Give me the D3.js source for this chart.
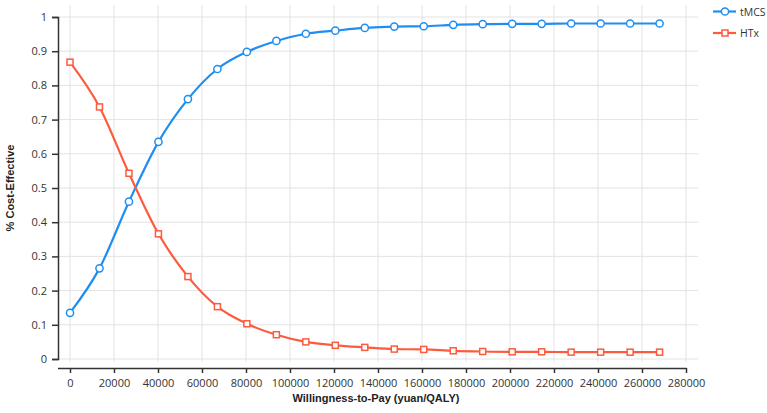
<!DOCTYPE html>
<html>
<head>
<meta charset="utf-8">
<script src="https://cdn.jsdelivr.net/npm/d3@7"></script>
<style>
  body { margin: 0; background: #fff; }
</style>
</head>
<body>
<div id="chart"></div>
<script>
// willingness-to-pay thresholds (yuan/QALY)
const wtp = [0, 13400, 26800, 40200, 53600, 67000, 80400, 93800, 107200, 120600, 134000,
    147400, 160800, 174200, 187600, 201000, 214400, 227800, 241200, 254600, 268000];
const tmcs = [0.135, 0.265, 0.46, 0.635, 0.76, 0.848, 0.898, 0.93, 0.951, 0.96, 0.968,
    0.972, 0.973, 0.977, 0.979, 0.98, 0.98, 0.981, 0.981, 0.981, 0.981];
const htx = [0.868, 0.737, 0.543, 0.366, 0.241, 0.153, 0.103, 0.071, 0.05, 0.04, 0.034,
    0.029, 0.028, 0.024, 0.022, 0.021, 0.021, 0.02, 0.02, 0.02, 0.02];
const xTicks = d3.range(0, 280001, 20000);
const yTicks = d3.range(0, 11).map(d => d / 10);

const width = 767, height = 413;
const blue = '#1f8ef1', red = '#fd5b3e';
const sans = '"Open Sans", "Noto Sans", sans-serif';
const arial = '"Liberation Sans", Arial, sans-serif';

const svg = d3.select('#chart').append('svg')
    .attr('width', width).attr('height', height);

const x = d3.scaleLinear().domain([0, 280000]).range([70, 686]);
const y = d3.scaleLinear().domain([0, 1]).range([359, 17]);

// grid
const grid = svg.append('g');
grid.selectAll('.vg').data(xTicks).enter().append('line')
    .attr('x1', d => x(d)).attr('x2', d => x(d))
    .attr('y1', 5).attr('y2', 362)
    .attr('stroke', '#e3e3e3').attr('stroke-width', 1);
grid.selectAll('.hg').data(yTicks).enter().append('line')
    .attr('x1', 58).attr('x2', 698)
    .attr('y1', d => y(d)).attr('y2', d => y(d))
    .attr('stroke', '#e3e3e3').attr('stroke-width', 1);

// axes
const yAxis = svg.append('g')
    .attr('transform', 'translate(58,0)')
    .call(d3.axisLeft(y).tickValues(yTicks).tickSize(6).tickPadding(5).tickFormat(d => d3.format('')(d)));
const xAxis = svg.append('g')
    .attr('transform', 'translate(0,368)')
    .call(d3.axisBottom(x).tickValues(xTicks).tickSize(5).tickPadding(6).tickFormat(d => d));
[xAxis, yAxis].forEach(a => {
    a.select('.domain').attr('stroke', '#333').attr('stroke-width', 1.5);
    a.selectAll('.tick line').attr('stroke', '#333').attr('stroke-width', 1.5);
    a.selectAll('.tick text').attr('fill', '#333').attr('font-size', '11px')
        .attr('font-family', sans);
});
xAxis.select('.domain').attr('d', 'M58,0.5H686.5');

svg.append('text')
    .attr('x', 376).attr('y', 402)
    .attr('text-anchor', 'middle')
    .attr('font-family', arial)
    .attr('font-weight', 'bold').attr('font-size', '11px').attr('fill', '#222')
    .text('Willingness-to-Pay (yuan/QALY)');
svg.append('text')
    .attr('transform', 'translate(14,188) rotate(-90)')
    .attr('text-anchor', 'middle')
    .attr('font-family', arial)
    .attr('font-weight', 'bold').attr('font-size', '11px').attr('fill', '#222')
    .text('% Cost-Effective');

const series = [
    {name: 'tMCS', values: tmcs, color: blue, shape: 'circle'},
    {name: 'HTx', values: htx, color: red, shape: 'square'}
];

const line = d3.line()
    .x((d, i) => x(wtp[i]))
    .y(d => y(d))
    .curve(d3.curveMonotoneX);

function marker(g, shape, color) {
    if (shape === 'circle') {
        g.append('circle').attr('r', 3.6)
            .attr('fill', '#fff').attr('stroke', color).attr('stroke-width', 1.5);
    } else {
        g.append('rect').attr('x', -3).attr('y', -3).attr('width', 6).attr('height', 6)
            .attr('fill', '#fff').attr('stroke', color).attr('stroke-width', 1.5);
    }
}

series.forEach(s => {
    svg.append('path')
        .datum(s.values)
        .attr('d', line)
        .attr('fill', 'none')
        .attr('stroke', s.color)
        .attr('stroke-width', 2.2);
    s.values.forEach((v, i) => {
        const g = svg.append('g').attr('transform', `translate(${x(wtp[i])},${y(v)})`);
        marker(g, s.shape, s.color);
    });
});

// legend
const legend = svg.append('g').attr('transform', 'translate(713,11.5)');
series.forEach((s, i) => {
    const row = legend.append('g').attr('transform', `translate(0,${i * 21.5})`);
    row.append('line').attr('x1', 0).attr('x2', 23).attr('y1', 0).attr('y2', 0)
        .attr('stroke', s.color).attr('stroke-width', 2.2);
    const m = row.append('g').attr('transform', 'translate(12,0)');
    marker(m, s.shape, s.color);
    row.append('text').attr('x', 27).attr('y', 4)
        .attr('font-family', sans)
        .attr('font-size', '10.5px').attr('fill', '#333')
        .text(s.name);
});
</script>
</body>
</html>
